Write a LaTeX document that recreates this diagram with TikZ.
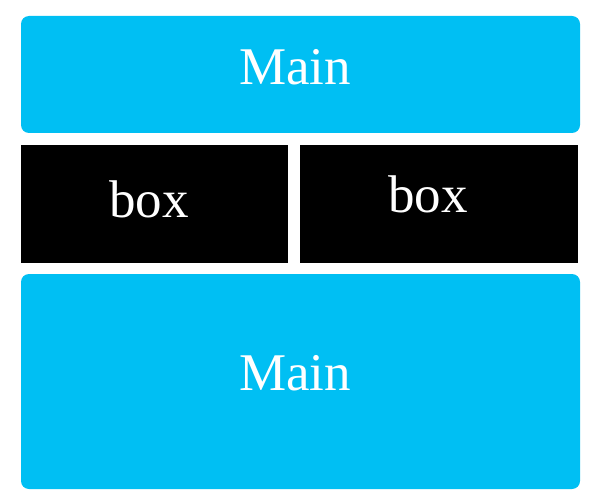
\documentclass[tikz,border=0pt]{standalone}
\usepackage{fontspec}
\setmainfont{Liberation Serif}
\definecolor{mainblue}{RGB}{0,191,243}
\tikzset{
  mainbox/.style={fill=mainblue, rounded corners=8pt},
  blackbox/.style={fill=black},
  lbl/.style={text=white, anchor=base, inner sep=0pt, font=\fontsize{53}{53}\selectfont}
}
\begin{document}
\begin{tikzpicture}[x=1pt,y=-1pt]
\useasboundingbox (0,0) rectangle (600,500);
\fill[mainbox] (21,16) rectangle (580,133);
\fill[blackbox] (21,145) rectangle (288,263);
\fill[blackbox] (300,145) rectangle (578,263);
\fill[mainbox] (21,274) rectangle (580,489);
\node[lbl] (t1) at (295,85) {Main};
\node[lbl] (b1) at (149,217) {box};
\node[lbl] (b2) at (428,212) {box};
\node[lbl] (t2) at (295,390) {Main};
\end{tikzpicture}
\end{document}
